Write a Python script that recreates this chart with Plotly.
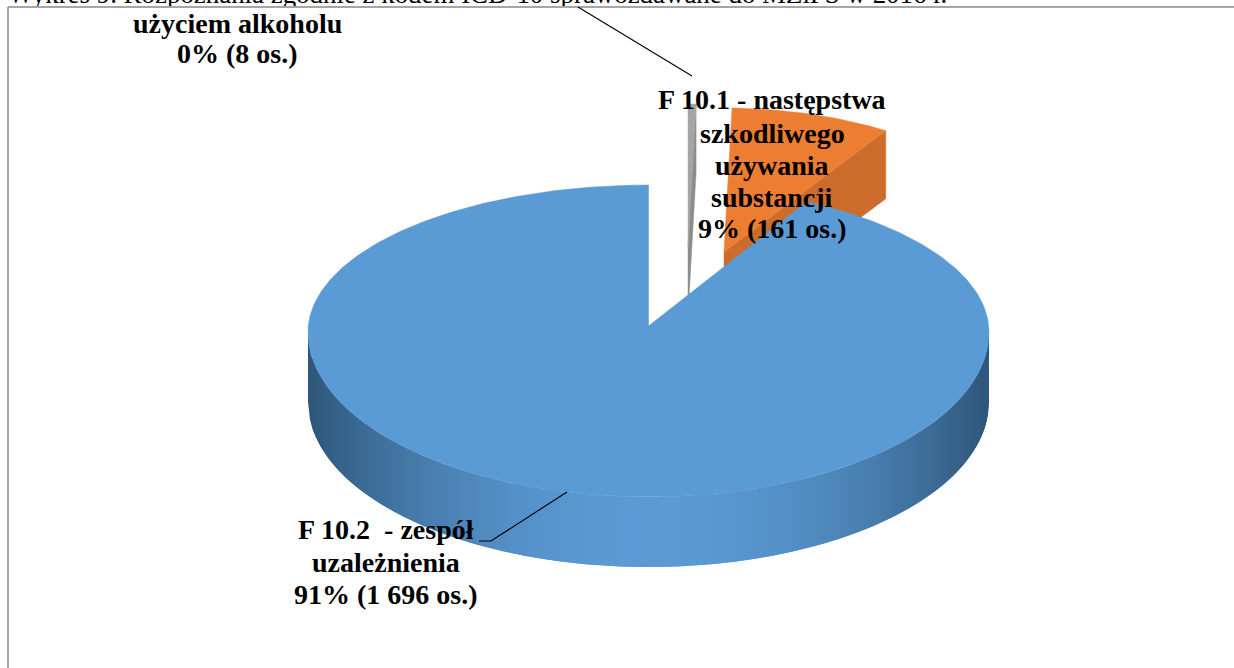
import numpy as np
import plotly.graph_objects as go

# ---- data ----
categories = ["F 10.0", "F 10.1", "F 10.2"]
values = [8, 161, 1696]
label_lines = [
    ["użyciem alkoholu", "0% (8 os.)"],
    ["F 10.1 - następstwa", "szkodliwego", "używania", "substancji", "9% (161 os.)"],
    ["F 10.2  - zespół", "uzależnienia", "91% (1 696 os.)"],
]
caption = "Wykres 9. Rozpoznania zgodnie z kodem ICD-10 sprawozdawane do MZiPS w 2016 r."

# ---- style ----
TOP = ["#A5A5A5", "#ED7D31", "#5B9BD5"]
WALL = ["#8C8C8C", "#CB6C2C", None]
FONT = "Liberation Serif"

# projection of the pie on to the page
CX, CY, RX, RY_UP, RY_DN = 648.5, 332.0, 340.5, 147.0, 165.0
APEX_Y = 326.0
DEPTH = 70.0
WARP = 0.82  # perspective foreshortening of the main slice's first edge
EXPL = {0: (688.0, 247.0, 300.0, 143.0), 1: (724.0, 252.0, 300.0, 144.0)}
LABEL_POS = [(237, [23.5, 53.5]), (772, [99, 133, 165, 197, 228]), (386, [529, 562, 594])]

total = sum(values)
edges = np.concatenate([[0], np.cumsum(values)]) / total * 2 * np.pi


def rim(a):
    s, c = np.sin(a), np.cos(a)
    y = np.where(c >= 0, CY - RY_UP * c, CY + RY_DN * (-c))
    return CX + RX * s, y


fig = go.Figure()


def poly(xs, ys, color, width=0.8):
    fig.add_trace(go.Scatter(
        x=list(xs), y=list(ys), mode="lines", fill="toself", fillcolor=color,
        line=dict(color=color, width=width), hoverinfo="skip", showlegend=False))


# caption sits behind the white chart frame
fig.add_trace(go.Scatter(
    x=[8], y=[10], mode="text", text=[caption], textposition="top right",
    textfont=dict(family=FONT, size=26.9, color="#000000"), hoverinfo="skip", showlegend=False))
fig.add_trace(go.Scatter(
    x=[8, 1300, 1300, 8, 8], y=[7, 7, 720, 720, 7], mode="lines", fill="toself",
    fillcolor="#FFFFFF", line=dict(color="#A6A6A6", width=2), hoverinfo="skip", showlegend=False))

# exploded slices: wall first, then top face
for i in (1, 0):
    ax, ay, rx, ry = EXPL[i]
    a0, a1 = edges[i], edges[i + 1]
    xr, yr = ax + rx * np.sin(a1), ay - ry * np.cos(a1)
    d = 68.0
    poly([ax, xr, xr, ax, ax], [ay, yr, yr + d, ay + d, ay], WALL[i], 0.5)
    t = np.linspace(a0, a1, 40)
    poly(np.r_[ax, ax + rx * np.sin(t), ax], np.r_[ay, ay - ry * np.cos(t), ay], TOP[i], 0.5)

# main slice: side wall shaded along x, then top face
xs = np.linspace(-1, 1, 171)
for k in range(len(xs) - 1):
    # each strip runs under the next one so that no seams show
    s = np.linspace(xs[k], min(xs[k] + 2 * (xs[1] - xs[0]), 1.0), 5)
    c = np.sqrt(np.clip(1 - s ** 2, 0, 1))
    x = CX + RX * s
    y = CY + RY_DN * c
    f = abs((xs[k] + xs[k + 1]) / 2) ** 2
    col = "rgb({},{},{})".format(*[int(round(p + (e - p) * f))
                                   for p, e in zip((91, 154, 213), (46, 86, 122))])
    poly(np.r_[x, x[::-1]], np.r_[y, y[::-1] + DEPTH], col, 0)
start = np.arctan(WARP * np.tan(edges[2]))
t = np.linspace(start, edges[3], 400)
x, y = rim(t)
poly(np.r_[CX, x, CX], np.r_[APEX_Y, y, APEX_Y], TOP[2], 0.5)

# leader lines
for lx, ly in (([578, 692], [7, 76]), ([567, 491, 479], [492, 541, 541])):
    fig.add_trace(go.Scatter(x=lx, y=ly, mode="lines", line=dict(color="#000000", width=1.1),
                             hoverinfo="skip", showlegend=False))

for lines, (px, ys_) in zip(label_lines, LABEL_POS):
    for txt, py in zip(lines, ys_):
        fig.add_annotation(x=px, y=py, text=txt, showarrow=False, align="center",
                           xanchor="center", yanchor="middle",
                           font=dict(family=FONT, size=28, color="#000000", weight="bold"))

fig.update_layout(
    width=1234, height=668, margin=dict(l=0, r=0, t=0, b=0),
    paper_bgcolor="#FFFFFF", plot_bgcolor="#FFFFFF", showlegend=False,
    xaxis=dict(range=[0, 1234], visible=False, fixedrange=True),
    yaxis=dict(range=[668, 0], visible=False, fixedrange=True),
)
fig.write_html("out.html", post_script="document.body.style.margin='0';",
               config={"displayModeBar": False})
